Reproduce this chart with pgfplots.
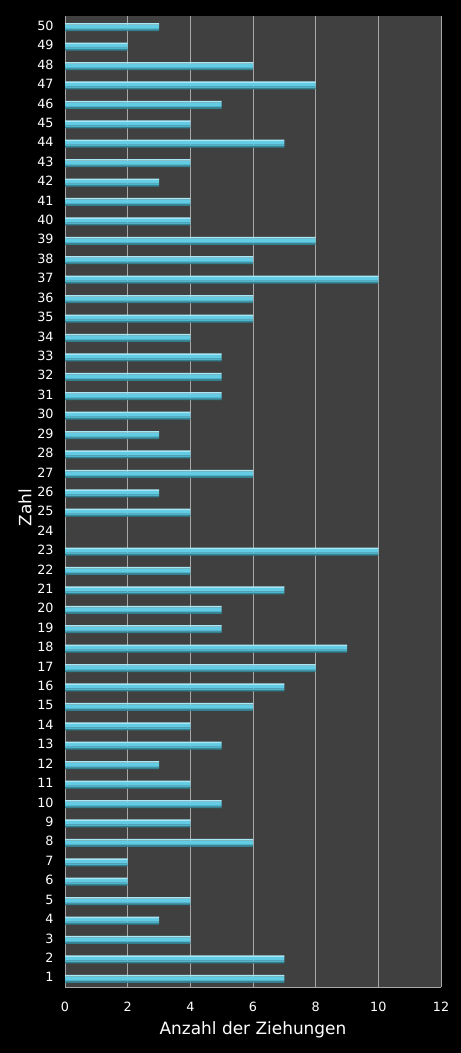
\documentclass[border=0pt]{standalone}
\usepackage{pgfplots}
\usepackage{pgfplotstable}
\pgfplotsset{compat=1.18}
\usepackage{fontspec}
\setmainfont{DejaVu Sans}
\definecolor{plotbg}{HTML}{404040}
\definecolor{gridc}{HTML}{A8A8A8}
\definecolor{bartop}{HTML}{A8E8F6}
\definecolor{barmid}{HTML}{62CCE4}
\definecolor{barlow}{HTML}{4EB4CC}
\definecolor{barbot}{HTML}{30808F}
\pgfplotstableread{
zahl anzahl
1 7
2 7
3 4
4 3
5 4
6 2
7 2
8 6
9 4
10 5
11 4
12 3
13 5
14 4
15 6
16 7
17 8
18 9
19 5
20 5
21 7
22 4
23 10
24 0
25 4
26 3
27 6
28 4
29 3
30 4
31 5
32 5
33 5
34 4
35 6
36 6
37 10
38 6
39 8
40 4
41 4
42 3
43 4
44 7
45 4
46 5
47 8
48 6
49 2
50 3
}\ziehungen
\begin{document}
\begin{tikzpicture}
% black page background
\fill[black] (0bp,0bp) rectangle (461bp,1053bp);
\begin{axis}[
  at={(65bp,66bp)}, anchor=south west,
  scale only axis, width=376bp, height=971bp,
  xmin=0, xmax=12, ymin=0.5, ymax=50.5,
  xtick={0,2,...,12}, ytick={1,...,50},
  major tick length=0pt,
  axis background/.style={fill=plotbg},
  xmajorgrids, grid style={gridc, line width=0.8bp},
  axis x line*=bottom, axis y line*=left,
  axis line style={gridc, line width=0.8bp, -},
  tick label style={white, font=\fontsize{12.8}{15}\selectfont},
  /pgf/number format/assume math mode=true,
  xticklabel style={yshift=-12bp},
  yticklabel style={xshift=-8bp},
  xlabel={Anzahl der Ziehungen},
  ylabel={Zahl},
  label style={white, font=\fontsize{17}{20}\selectfont},
  xlabel style={at={(axis description cs:0.5,-0.0443)}, anchor=center},
  ylabel style={at={(axis description cs:-0.106,0.494)}, anchor=center},
  xbar,
  stripe/.style={draw=none, fill=#1},
]
% each bar is built from horizontal stripes for a glossy look
\addplot[stripe=barbot, bar width=1.5bp, bar shift=-4.75bp] table[x=anzahl, y=zahl] {\ziehungen};
\addplot[stripe=barlow, bar width=1.5bp, bar shift=-3.25bp] table[x=anzahl, y=zahl] {\ziehungen};
\addplot[stripe=barmid, bar width=3.5bp, bar shift=-0.75bp] table[x=anzahl, y=zahl] {\ziehungen};
\addplot[stripe=bartop, bar width=1.5bp, bar shift=1.75bp] table[x=anzahl, y=zahl] {\ziehungen};
\end{axis}
\end{tikzpicture}
\end{document}
